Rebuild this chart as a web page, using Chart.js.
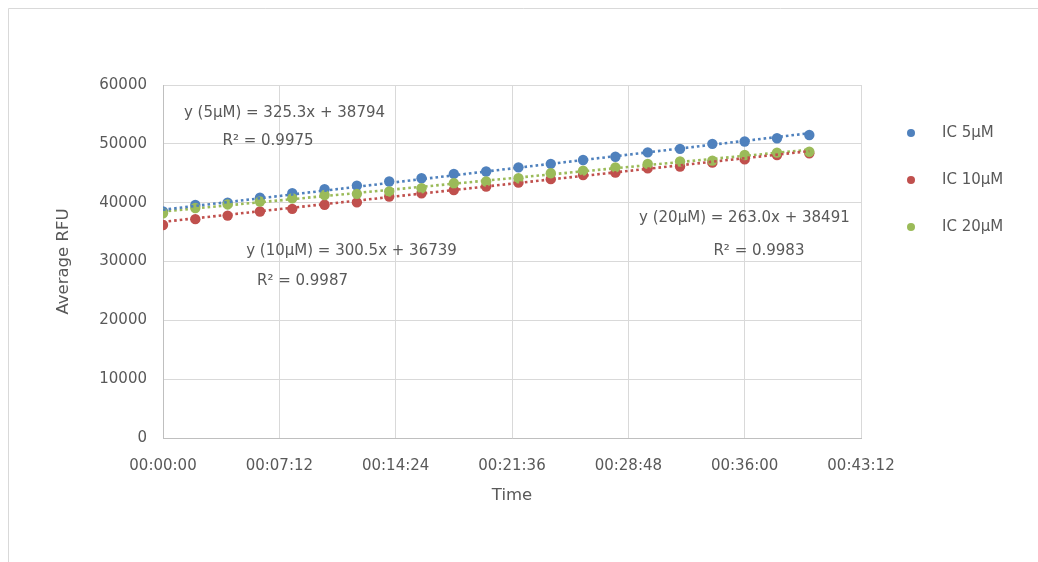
<!DOCTYPE html>
<html>
<head>
<meta charset="utf-8">
<script src="https://cdn.jsdelivr.net/npm/chart.js@4.4.1/dist/chart.umd.min.js"></script>
<style>
  html, body { margin: 0; padding: 0; background: #ffffff; }
  #wrap { position: relative; width: 1038px; height: 562px; overflow: hidden; }
  canvas { display: block; }
</style>
</head>
<body>
<div id="wrap"><canvas id="c" width="1038" height="562"></canvas></div>
<script>
// ---- data ----
const seriesLabels = ['IC 5\u00B5M', 'IC 10\u00B5M', 'IC 20\u00B5M'];
const shortLabels = ['5\u00B5M', '10\u00B5M', '20\u00B5M'];
const timeSeconds = [0, 120, 240, 360, 480, 600, 720, 840, 960, 1080, 1200,
                     1320, 1440, 1560, 1680, 1800, 1920, 2040, 2160, 2280, 2400];
const ic5 = [38500, 39600, 40000, 40850, 41600, 42300, 42900, 43600, 44150, 44900, 45300,
             46000, 46600, 47250, 47800, 48550, 49150, 50000, 50400, 50950, 51500];
const ic10 = [36200, 37200, 37800, 38500, 38950, 39650, 40050, 41050, 41600, 42150, 42750,
              43400, 44000, 44700, 45100, 45850, 46150, 46800, 47350, 48100, 48400];
const ic20 = [38200, 39100, 39700, 40200, 40750, 41300, 41500, 41900, 42450, 43300, 43600,
              44150, 45000, 45450, 46000, 46600, 47000, 47150, 48100, 48500, 48650];
// trendline equations as printed on the chart (x in minutes)
const trendSlope = [325.3, 300.5, 263.0];
const trendIntercept = [38794, 36739, 38491];
const trendR2 = ['0.9975', '0.9987', '0.9983'];
const xTickStep = 432;   // 00:07:12
const xMax = 2592;       // 00:43:12
const yTicks = [0, 10000, 20000, 30000, 40000, 50000, 60000];

const colors = ['#4F81BD', '#C0504D', '#9BBB59'];
const textColor = '#595959';
const FONT = '"DejaVu Sans", "Liberation Sans", sans-serif';

function fmtTime(s) {
  const h = Math.floor(s / 3600), m = Math.floor((s % 3600) / 60), sec = Math.round(s % 60);
  const p = v => String(v).padStart(2, '0');
  return p(h) + ':' + p(m) + ':' + p(sec);
}

const values = [ic5, ic10, ic20];
const pointSets = values.map((arr, i) => ({
  type: 'scatter',
  label: seriesLabels[i],
  data: arr.map((v, k) => ({ x: timeSeconds[k], y: v })),
  backgroundColor: colors[i],
  borderColor: colors[i],
  borderWidth: 0,
  pointRadius: 5.2,
  pointHoverRadius: 5.2,
  showLine: false,
  order: 3 - i
}));
const tStart = timeSeconds[0], tEnd = timeSeconds[timeSeconds.length - 1];
const trendSets = trendSlope.map((m, i) => ({
  type: 'scatter',
  label: 'trend ' + seriesLabels[i],
  isTrend: true,
  data: [
    { x: tStart, y: trendIntercept[i] + m * tStart / 60 },
    { x: tEnd, y: trendIntercept[i] + m * tEnd / 60 }
  ],
  borderColor: colors[i],
  backgroundColor: colors[i],
  borderWidth: 2.6,
  borderDash: [2.6, 3],
  pointRadius: 0,
  showLine: true,
  order: 0
}));

// annotation anchors in data units (x: seconds, y: RFU)
const annotations = [
  { text: 'y (' + shortLabels[0] + ') = ' + trendSlope[0].toFixed(1) + 'x + ' + trendIntercept[0], x: 451, y: 55240 },
  { text: 'R\u00B2 = ' + trendR2[0], x: 390, y: 50480 },
  { text: 'y (' + shortLabels[1] + ') = ' + trendSlope[1].toFixed(1) + 'x + ' + trendIntercept[1], x: 700, y: 31700 },
  { text: 'R\u00B2 = ' + trendR2[1], x: 518, y: 26690 },
  { text: 'y (' + shortLabels[2] + ') = ' + trendSlope[2].toFixed(1) + 'x + ' + trendIntercept[2], x: 2159, y: 37390 },
  { text: 'R\u00B2 = ' + trendR2[2], x: 2213, y: 31700 }
];

const framePlugin = {
  id: 'frame',
  beforeDraw(chart) {
    const ctx = chart.ctx;
    ctx.save();
    ctx.fillStyle = '#ffffff';
    ctx.fillRect(0, 0, chart.width, chart.height);
    ctx.strokeStyle = '#d9d9d9';
    ctx.lineWidth = 1;
    ctx.beginPath();
    ctx.moveTo(8.5, chart.height);
    ctx.lineTo(8.5, 8.5);
    ctx.lineTo(chart.width, 8.5);
    ctx.stroke();
    ctx.restore();
  }
};

const annotationPlugin = {
  id: 'eqLabels',
  afterDatasetsDraw(chart) {
    const ctx = chart.ctx, xs = chart.scales.x, ys = chart.scales.y;
    ctx.save();
    ctx.font = '15px ' + FONT;
    ctx.fillStyle = textColor;
    ctx.textAlign = 'center';
    ctx.textBaseline = 'middle';
    annotations.forEach(a => {
      ctx.fillText(a.text, xs.getPixelForValue(a.x), ys.getPixelForValue(a.y));
    });
    ctx.restore();
  }
};

const legendPlugin = {
  id: 'sideLegend',
  afterDraw(chart) {
    const ctx = chart.ctx;
    const area = chart.chartArea;
    const mx = area.right + 50, tx = area.right + 81;
    const y0 = 133, gap = 47;
    ctx.save();
    ctx.font = '15px ' + FONT;
    ctx.textAlign = 'left';
    ctx.textBaseline = 'middle';
    seriesLabels.forEach((lab, i) => {
      const y = y0 + i * gap;
      ctx.fillStyle = colors[i];
      ctx.beginPath();
      ctx.arc(mx, y, 4, 0, Math.PI * 2);
      ctx.fill();
      ctx.fillStyle = textColor;
      ctx.fillText(lab, tx, y);
    });
    ctx.restore();
  }
};

new Chart(document.getElementById('c'), {
  type: 'scatter',
  data: { datasets: [...pointSets, ...trendSets] },
  options: {
    responsive: false,
    devicePixelRatio: 1,
    animation: false,
    events: [],
    layout: { padding: { left: 0, right: 177, top: 85, bottom: 44 } },
    plugins: {
      legend: { display: false },
      tooltip: { enabled: false }
    },
    scales: {
      x: {
        type: 'linear',
        min: 0,
        max: xMax,
        afterFit(s) { s.height = 80; },
        afterBuildTicks(s) {
          const t = [];
          for (let v = 0; v <= xMax; v += xTickStep) t.push({ value: v });
          s.ticks = t;
        },
        ticks: {
          callback: v => fmtTime(v),
          color: textColor,
          font: { family: FONT, size: 15 },
          padding: 19,
          maxRotation: 0,
          autoSkip: false
        },
        grid: { color: '#d9d9d9', lineWidth: 1, drawTicks: false },
        border: { color: '#bfbfbf', width: 1 },
        title: {
          display: true,
          text: 'Time',
          color: textColor,
          font: { family: FONT, size: 16.5 },
          padding: { top: 0, bottom: 12 }
        }
      },
      y: {
        type: 'linear',
        min: 0,
        max: 60000,
        afterFit(s) { s.width = 163; },
        afterBuildTicks(s) { s.ticks = yTicks.map(v => ({ value: v })); },
        ticks: {
          callback: v => String(v),
          color: textColor,
          font: { family: FONT, size: 15 },
          padding: 16
        },
        grid: { color: '#d9d9d9', lineWidth: 1, drawTicks: false },
        border: { color: '#bfbfbf', width: 1 },
        title: {
          display: true,
          text: 'Average RFU',
          color: textColor,
          font: { family: FONT, size: 16.5 },
          padding: { top: 54, bottom: 0 }
        }
      }
    }
  },
  plugins: [framePlugin, annotationPlugin, legendPlugin]
});
</script>
</body>
</html>
